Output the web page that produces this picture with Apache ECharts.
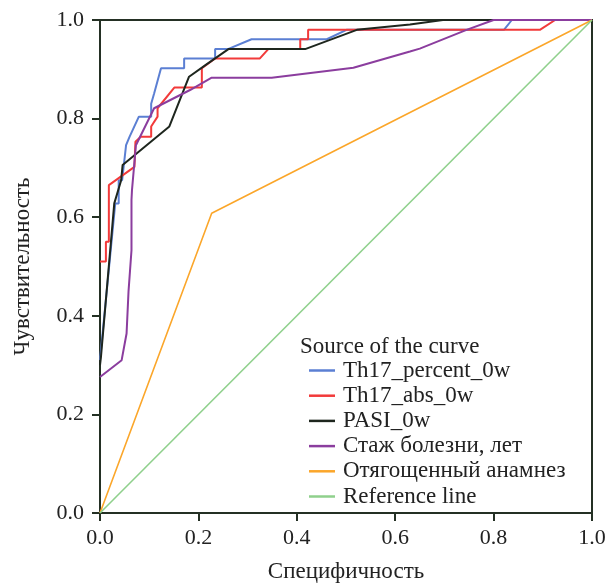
<!DOCTYPE html>
<html>
<head>
<meta charset="utf-8">
<script src="https://cdn.jsdelivr.net/npm/echarts@6/dist/echarts.min.js"></script>
<style>
  html, body { margin: 0; padding: 0; background: #fff; }
  #chart { width: 607px; height: 583px; }
</style>
</head>
<body>
<div id="chart"></div>
<script>
// ROC curves: [1 - specificity, sensitivity]
const seriesNames = ['Th17_percent_0w', 'Th17_abs_0w', 'PASI_0w', 'Стаж болезни, лет', 'Отягощенный анамнез', 'Reference line'];
const seriesColors = ['#5b7fd3', '#f23a3a', '#1e261e', '#8b3d9e', '#fba62a', '#8fd08c'];

const th17Percent = [
  [0, 0.31], [0.004, 0.314], [0.031, 0.628], [0.038, 0.628], [0.038, 0.675],
  [0.045, 0.675], [0.053, 0.746], [0.06, 0.763], [0.079, 0.804], [0.104, 0.804],
  [0.104, 0.83], [0.11, 0.851], [0.124, 0.902], [0.171, 0.902], [0.171, 0.922],
  [0.234, 0.922], [0.234, 0.941], [0.26, 0.941], [0.308, 0.961], [0.461, 0.961],
  [0.501, 0.98], [0.821, 0.98], [0.837, 1.0], [1, 1]
];
const th17Abs = [
  [0, 0.51], [0.012, 0.51], [0.012, 0.55], [0.018, 0.55], [0.018, 0.665],
  [0.07, 0.702], [0.072, 0.753], [0.083, 0.763], [0.104, 0.763], [0.104, 0.784],
  [0.117, 0.804], [0.117, 0.821], [0.151, 0.863], [0.207, 0.863], [0.207, 0.902],
  [0.234, 0.922], [0.325, 0.922], [0.342, 0.941], [0.407, 0.941], [0.407, 0.961],
  [0.423, 0.961], [0.423, 0.98], [0.894, 0.98], [0.925, 1.0], [1, 1]
];
const pasi = [
  [0, 0.3], [0.002, 0.317], [0.029, 0.628], [0.043, 0.675], [0.046, 0.706],
  [0.141, 0.784], [0.181, 0.885], [0.215, 0.909], [0.261, 0.941], [0.417, 0.941],
  [0.522, 0.98], [0.63, 0.991], [0.697, 1.0], [1, 1]
];
const diseaseDuration = [
  [0, 0.276], [0.044, 0.31], [0.054, 0.364], [0.058, 0.45], [0.064, 0.533],
  [0.064, 0.635], [0.065, 0.655], [0.073, 0.746], [0.11, 0.821], [0.183, 0.858],
  [0.227, 0.883], [0.349, 0.883], [0.515, 0.903], [0.63, 0.936], [0.65, 0.942],
  [0.745, 0.98], [0.8, 1.0], [1, 1]
];
const familyHistory = [[0, 0], [0.227, 0.608], [1, 1]];
const referenceLine = [[0, 0], [1, 1]];

const curves = [th17Percent, th17Abs, pasi, diseaseDuration, familyHistory, referenceLine];
const tickLabels = ['0.0', '0.2', '0.4', '0.6', '0.8', '1.0'];

const serif = '"Liberation Serif", "DejaVu Serif", serif';
const frameColor = '#243024';
const textColor = '#222';

const chart = echarts.init(document.getElementById('chart'), null, { renderer: 'canvas' });

const axisCommon = {
  type: 'value',
  min: 0,
  max: 1,
  interval: 0.2,
  splitLine: { show: false },
  axisLine: { show: true, lineStyle: { color: frameColor, width: 2 } },
  axisTick: { show: true, inside: false, length: 8, lineStyle: { color: frameColor, width: 2 } },
  axisLabel: {
    color: textColor,
    fontFamily: serif,
    fontSize: 22,
    formatter: v => tickLabels[Math.round(v / 0.2)]
  },
  nameTextStyle: { color: textColor, fontFamily: serif, fontSize: 23 },
  nameLocation: 'middle'
};

chart.setOption({
  animation: false,
  backgroundColor: '#fff',
  title: {
    text: 'Source of the curve',
    left: 300,
    top: 335,
    padding: 0,
    textStyle: { color: textColor, fontFamily: serif, fontSize: 23, fontWeight: 'normal' }
  },
  grid: {
    left: 100, right: 15, top: 20, bottom: 70,
    outerBoundsMode: 'none',
    containLabel: false,
    show: true,
    borderColor: frameColor,
    borderWidth: 2
  },
  legend: {
    orient: 'vertical',
    left: 309,
    top: 359,
    padding: 0,
    icon: 'rect',
    itemWidth: 26,
    itemHeight: 2.5,
    itemGap: 2.2,
    data: seriesNames,
    textStyle: { color: textColor, fontFamily: serif, fontSize: 23, lineHeight: 22, padding: [0, 0, 0, 3] }
  },
  xAxis: Object.assign({}, axisCommon, {
    name: 'Специфичность',
    nameGap: 47,
    axisLabel: Object.assign({}, axisCommon.axisLabel, { margin: 14 })
  }),
  yAxis: Object.assign({}, axisCommon, {
    name: 'Чувствительность',
    nameGap: 66,
    axisLabel: Object.assign({}, axisCommon.axisLabel, { margin: 16, padding: [6, 0, 0, 0] })
  }),
  series: curves.map((data, i) => ({
    name: seriesNames[i],
    type: 'line',
    data: data,
    symbol: 'none',
    silent: true,
    color: seriesColors[i],
    lineStyle: { color: seriesColors[i], width: i >= 4 ? 1.6 : 2 }
  }))
});
</script>
</body>
</html>
